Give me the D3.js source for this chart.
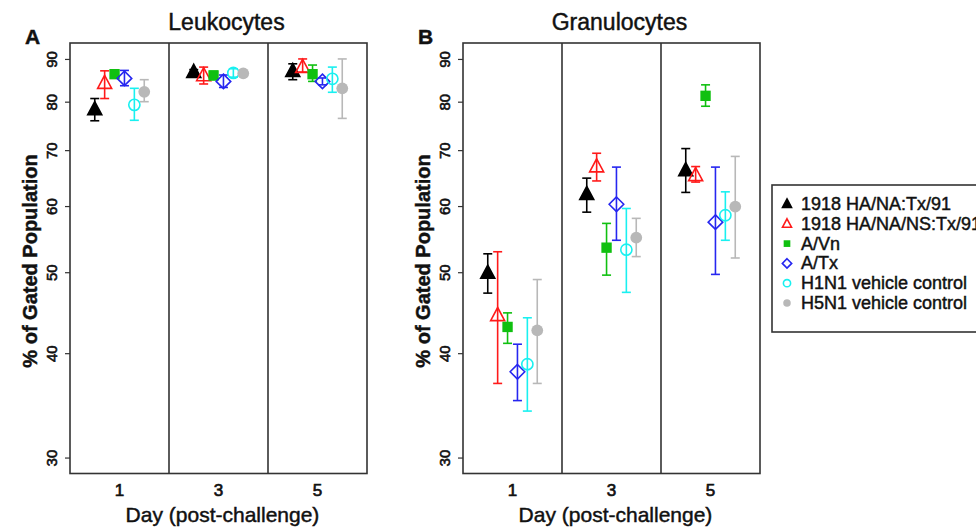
<!DOCTYPE html>
<meta charset="utf-8">
<style>
body { margin: 0; background: #fff; }
text { font-family: "Liberation Sans", Arial, sans-serif; fill: #111; stroke: #111; stroke-width: 0.45px; }
.frame { fill: none; stroke: #333; stroke-width: 1.6px; }
</style>
<svg width="976" height="529"></svg>
<script src="https://d3js.org/d3.v7.min.js"></script>
<script>
var svg = d3.select("svg");

// series
var seriesNames = ["1918 HA/NA:Tx/91", "1918 HA/NA/NS:Tx/91", "A/Vn", "A/Tx",
                   "H1N1 vehicle control", "H5N1 vehicle control"];
var seriesColors = ["#000000", "#ff1a1a", "#10c010", "#2626f0", "#19f0f0", "#b8b8b8"];
var seriesShapes = ["triFill", "triOpen", "sqFill", "diamond", "circOpen", "circFill"];

var days = [1, 3, 5];
var yTicks = [30, 40, 50, 60, 70, 80, 90];

// Leukocytes: [series][day]
var leukMean = [[78.3, 86.8, 87.0], [84.2, 86.0, 88.0], [86.3, 86.0, 86.3],
                [85.3, 84.6, 84.6], [79.3, 86.6, 85.2], [82.2, 86.5, 83.0]];
var leukLo   = [[75.9, 86.2, 85.0], [80.7, 84.0, 86.8], [85.5, 85.0, 84.6],
                [83.6, 83.2, 83.8], [76.0, 85.6, 82.1], [80.0, 86.0, 76.4]];
var leukHi   = [[80.7, 87.4, 88.8], [87.1, 88.0, 90.0], [87.0, 87.0, 88.5],
                [87.2, 86.1, 85.4], [83.0, 87.6, 88.0], [85.0, 87.0, 90.0]];

// Granulocytes: [series][day]
var granMean = [[49.9, 62.0, 66.2], [44.4, 66.9, 65.3], [43.0, 53.5, 81.3],
                [38.0, 60.3, 57.4], [38.8, 53.2, 58.5], [42.6, 55.0, 59.9]];
var granLo   = [[47.2, 59.0, 62.3], [36.8, 64.3, 64.1], [41.1, 49.6, 79.0],
                [35.1, 54.6, 49.7], [34.1, 47.3, 54.6], [36.8, 52.2, 52.0]];
var granHi   = [[52.6, 64.8, 70.3], [52.9, 69.4, 66.9], [44.7, 57.2, 83.8],
                [41.0, 66.8, 66.8], [44.1, 59.6, 62.4], [49.0, 58.0, 68.8]];

var panels = [
  {letter: "A", title: "Leukocytes", left: 70, right: 367, mean: leukMean, lo: leukLo, hi: leukHi},
  {letter: "B", title: "Granulocytes", left: 463, right: 760, mean: granMean, lo: granLo, hi: granHi}
];

var plotTop = 43, plotBottom = 473.5;
var ext = Math.exp(0.04 * Math.log(90 / 30));
var y = d3.scaleLog().domain([30 / ext, 90 * ext]).range([plotBottom, plotTop]);

function drawMarker(g, shape, color, s) {
  if (shape == "triFill" || shape == "triOpen") {
    var h = s * 0.9;
    g.append("path")
      .attr("d", "M0," + (-h * 0.62) + "L" + (s / 2) + "," + (h * 0.42) + "L" + (-s / 2) + "," + (h * 0.42) + "Z")
      .attr("fill", shape == "triFill" ? color : "none")
      .attr("stroke", color).attr("stroke-width", 1.6);
  } else if (shape == "sqFill") {
    var a = s * 0.74;
    g.append("rect").attr("x", -a / 2).attr("y", -a / 2).attr("width", a).attr("height", a)
      .attr("fill", color);
  } else if (shape == "diamond") {
    var d = s * 0.52;
    g.append("path").attr("d", "M0," + (-d) + "L" + d + ",0L0," + d + "L" + (-d) + ",0Z")
      .attr("fill", "none").attr("stroke", color).attr("stroke-width", 1.6);
  } else if (shape == "circOpen") {
    g.append("circle").attr("r", s * 0.4).attr("fill", "none")
      .attr("stroke", color).attr("stroke-width", 1.6);
  } else {
    g.append("circle").attr("r", s * 0.42).attr("fill", color);
  }
}

panels.forEach(function(p) {
  var x = d3.scaleLinear().domain([0, 6]).range([p.left, p.right]);
  var g = svg.append("g");

  // points + error bars
  seriesNames.forEach(function(name, i) {
    days.forEach(function(day, j) {
      var cx = x(day + (i - 2.5) * 0.2);
      var col = seriesColors[i];
      var eb = g.append("g").attr("stroke", col).attr("stroke-width", 1.6);
      eb.append("line").attr("x1", cx).attr("x2", cx)
        .attr("y1", y(p.lo[i][j])).attr("y2", y(p.hi[i][j]));
      [p.lo[i][j], p.hi[i][j]].forEach(function(v) {
        eb.append("line").attr("x1", cx - 4.5).attr("x2", cx + 4.5)
          .attr("y1", y(v)).attr("y2", y(v));
      });
      var m = g.append("g").attr("transform", "translate(" + cx + "," + y(p.mean[i][j]) + ")");
      drawMarker(m, seriesShapes[i], col, 14);
    });
  });

  // frame and day dividers
  g.append("rect").attr("class", "frame")
    .attr("x", p.left).attr("y", plotTop)
    .attr("width", p.right - p.left).attr("height", plotBottom - plotTop);
  [2, 4].forEach(function(d) {
    g.append("line").attr("class", "frame")
      .attr("x1", x(d)).attr("x2", x(d)).attr("y1", plotTop).attr("y2", plotBottom);
  });

  // y axis
  var yAxis = d3.axisLeft(y).tickValues(yTicks).tickSize(5).tickFormat(d3.format("d"));
  var ya = g.append("g").attr("transform", "translate(" + p.left + ",0)").call(yAxis);
  ya.select(".domain").remove();
  ya.selectAll(".tick line").attr("stroke", "#333").attr("stroke-width", 1.2);
  ya.selectAll(".tick text")
    .attr("x", null).attr("dy", null)
    .attr("transform", "translate(-13,0) rotate(-90)")
    .attr("text-anchor", "middle")
    .style("font-size", "15px").style("font-family", "Liberation Sans, Arial, sans-serif")
    .style("stroke", "#111").style("stroke-width", "0.6px")
    .attr("fill", "#111");

  // x labels
  g.selectAll(".xlab").data(days).enter().append("text")
    .attr("x", function(d) { return x(d); }).attr("y", 496)
    .attr("text-anchor", "middle").style("font-size", "17px")
    .style("stroke-width", "0.7px")
    .text(function(d) { return d; });

  g.append("text").attr("x", (p.left + p.right) / 2 + 4).attr("y", 522)
    .attr("text-anchor", "middle").style("font-size", "21px")
    .text("Day (post-challenge)");

  g.append("text").attr("x", (p.left + p.right) / 2 + 8).attr("y", 30)
    .attr("text-anchor", "middle").style("font-size", "23px")
    .text(p.title);

  g.append("text").attr("x", p.left - 45).attr("y", 44)
    .style("font-size", "21px").style("font-weight", "bold")
    .text(p.letter);

  g.append("text")
    .attr("transform", "translate(" + (p.left - 33) + "," + 261 + ") rotate(-90)")
    .attr("text-anchor", "middle").style("font-size", "20px").style("font-weight", "bold")
    .text("% of Gated Population");
});

// legend
var leg = svg.append("g");
leg.append("rect").attr("x", 772).attr("y", 185).attr("width", 230).attr("height", 147)
  .attr("fill", "#fff").attr("stroke", "#333").attr("stroke-width", 1.6);
seriesNames.forEach(function(name, i) {
  var ly = 209 + i * 19.8;
  var m = leg.append("g").attr("transform", "translate(787," + (ly - 5) + ")");
  drawMarker(m, seriesShapes[i], seriesColors[i], 9);
  leg.append("text").attr("x", 801).attr("y", ly + 1)
    .style("font-size", "18px").text(name);
});
</script>
